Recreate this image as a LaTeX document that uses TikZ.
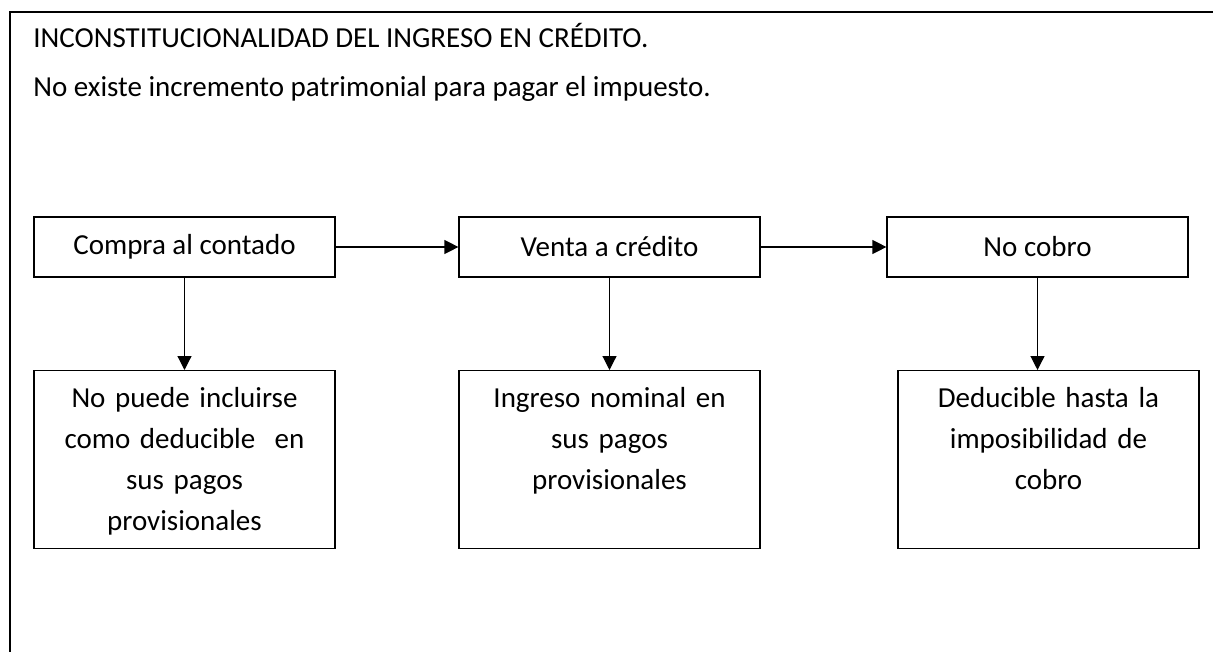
\documentclass[tikz,border=0pt]{standalone}
\usepackage{fontspec}
\setmainfont{Carlito}
\usetikzlibrary{positioning, arrows.meta}

\begin{document}
\begin{tikzpicture}[x=0.5pt, y=-0.5pt,
        box/.style={draw, line width=0.6pt, minimum width=150.5pt, minimum height=30pt, inner sep=0pt, font=\fontsize{14.5}{20.5}\selectfont},
        result/.style={box, text width=150.5pt, align=center, anchor=north, text height=18.5pt, text depth=70.5pt},
        flow/.style={line width=0.6pt, -{Triangle[length=7pt, width=7pt]}}
    ]
      \useasboundingbox (0,0) rectangle (1213,652);
      % outer frame
      \draw[line width=0.8pt] (1213,12) -| (10,652);
      % heading
      \node[anchor=base west, inner sep=0pt, font=\fontsize{14.5}{20.5}\selectfont] (title) at (33,48)
           {INCONSTITUCIONALIDAD DEL INGRESO EN CRÉDITO.};
      \node[anchor=base west, inner sep=0pt, font=\fontsize{14.5}{20.5}\selectfont] (sub) at (33,97)
           {No existe incremento patrimonial para pagar el impuesto.};
      % top row
      \node[box] (compra) at (184.5,247) {Compra al contado};
      \node[box] (venta) at (609.5,247) {Venta a crédito};
      \node[box] (nocobro) at (1037.5,247) {No cobro};
      % bottom row
      \node[result] (nodeduc) at (184.5,370)
           {No puede incluirse\\como deducible\ \ en\\sus pagos\\provisionales};
      \node[result] (nominal) at (609.5,370)
           {Ingreso nominal en\\sus pagos\\provisionales};
      \node[result] (deduc) at (1048.5,370)
           {Deducible hasta la\\imposibilidad de\\cobro};
      % connectors
      \draw[flow] (compra) -- (venta);
      \draw[flow] (venta) -- (nocobro);
      \draw[flow] (compra) -- (nodeduc);
      \draw[flow] (venta) -- (nominal);
      \draw[flow] (nocobro.south) -- (nocobro.south |- deduc.north);
    \end{tikzpicture}
\end{document}
